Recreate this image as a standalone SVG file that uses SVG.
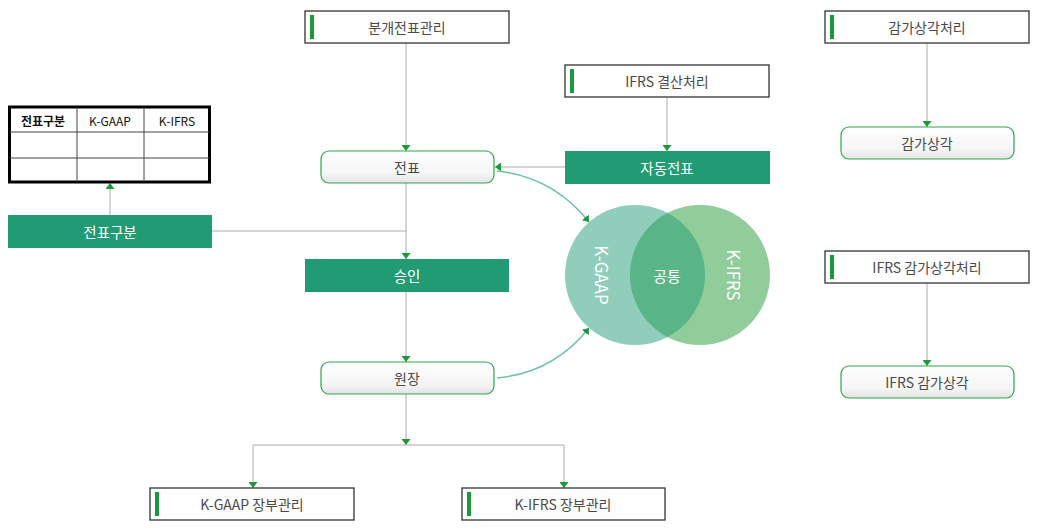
<svg xmlns="http://www.w3.org/2000/svg" width="1040" height="530" viewBox="0 0 1040 530">
<defs>
<style>
text{font-family:"Noto Sans CJK KR","Noto Sans",sans-serif;font-size:14px;text-anchor:middle;dominant-baseline:central}
.ob{fill:#fff;stroke:#333;stroke-width:1.3}
.bar{fill:#1a9a3c}
.gb{fill:#209b74}
.rn{fill:url(#gr);stroke:#2fa64a;stroke-width:1.2}
.dk{fill:#4a4a4a}
.wt{fill:#fff}
.ln{fill:none;stroke:#aaa;stroke-width:1}
.cv{fill:none;stroke:#6cc4a0;stroke-width:1.5}
.tb{fill:#fff;stroke:#000;stroke-width:3}
.tl{stroke:#444;stroke-width:1}
.th{font-size:12px;fill:#111}
</style>
<linearGradient id="gr" x1="0" y1="0" x2="0" y2="1">
<stop offset="0" stop-color="#fff"/><stop offset="0.7" stop-color="#f5f5f5"/><stop offset="1" stop-color="#e3e3e3"/>
</linearGradient>
<marker id="ah" viewBox="0 0 10 10" refX="10" refY="5" markerWidth="6" markerHeight="9" orient="auto" markerUnits="userSpaceOnUse" preserveAspectRatio="none">
<path d="M0,0 L10,5 L0,10 z" fill="#1b9a3a"/>
</marker>
</defs>
<rect width="1040" height="530" fill="#fff"/>

<g id="connectors">
<path class="ln" d="M406,43 V151" marker-end="url(#ah)"/>
<path class="ln" d="M406,183 V259" marker-end="url(#ah)"/>
<path class="ln" d="M406,292 V362" marker-end="url(#ah)"/>
<path class="ln" d="M406,394 V445" marker-end="url(#ah)"/>
<path class="ln" d="M406,445 H253 V488" marker-end="url(#ah)"/>
<path class="ln" d="M406,445 H564 V488" marker-end="url(#ah)"/>
<path class="ln" d="M110,215 V183" marker-end="url(#ah)"/>
<path class="ln" d="M212,231 H406"/>
<path class="ln" d="M667,98 V151" marker-end="url(#ah)"/>
<path class="ln" d="M565,167 H495" marker-end="url(#ah)"/>
<path class="ln" d="M927,43 V127" marker-end="url(#ah)"/>
<path class="ln" d="M927,283 V366" marker-end="url(#ah)"/>
<path class="cv" d="M497,171 Q553,177 589,222" marker-end="url(#ah)"/>
<path class="cv" d="M497,378 Q553,373 589,328" marker-end="url(#ah)"/>
</g>

<g id="venn">
<circle cx="700" cy="275" r="70" fill="#219b38" fill-opacity="0.5"/>
<circle cx="635" cy="275" r="70" fill="#219c76" fill-opacity="0.5"/>
<text class="wt" x="0" y="0" transform="translate(602,275) rotate(90)" style="font-size:17px">K-GAAP</text>
<text class="wt" x="0" y="0" transform="translate(734,275) rotate(90)" style="font-size:17px">K-IFRS</text>
<text class="wt" x="667" y="275" style="font-size:15px">공통</text>
</g>

<g id="table">
<rect class="tb" x="9.5" y="107" width="200" height="75"/>
<line class="tl" x1="77" y1="107" x2="77" y2="182"/>
<line class="tl" x1="144" y1="107" x2="144" y2="182"/>
<line class="tl" x1="9.5" y1="132" x2="209.5" y2="132"/>
<line class="tl" x1="9.5" y1="158" x2="209.5" y2="158"/>
<text class="th" x="43" y="120" style="font-weight:bold">전표구분</text>
<text class="th" x="110" y="120">K-GAAP</text>
<text class="th" x="177" y="120">K-IFRS</text>
</g>

<g id="n-jeonpyogubun">
<rect class="gb" x="8" y="215" width="204" height="33"/>
<text class="wt" x="110" y="231.5" style="font-size:14.5px">전표구분</text>
</g>

<g id="n-bungae">
<rect class="ob" x="305" y="11" width="204" height="32"/>
<rect class="bar" x="310" y="15" width="4" height="24"/>
<text class="dk" x="407" y="27">분개전표관리</text>
</g>

<g id="n-jeonpyo">
<rect class="rn" x="321" y="151" width="173" height="32" rx="8"/>
<text class="dk" x="407" y="167">전표</text>
</g>

<g id="n-seungin">
<rect class="gb" x="305" y="259" width="204" height="33"/>
<text class="wt" x="407" y="275.5" style="font-size:14.5px">승인</text>
</g>

<g id="n-wonjang">
<rect class="rn" x="321" y="362" width="173" height="32" rx="8"/>
<text class="dk" x="407" y="378">원장</text>
</g>

<g id="n-ifrs-gyeolsan">
<rect class="ob" x="565" y="65" width="204" height="32"/>
<rect class="bar" x="570" y="69" width="4" height="24"/>
<text class="dk" x="667" y="81">IFRS 결산처리</text>
</g>

<g id="n-jadong">
<rect class="gb" x="565" y="151" width="205" height="33"/>
<text class="wt" x="667" y="167.5" style="font-size:14.5px">자동전표</text>
</g>

<g id="n-gamga-cheori">
<rect class="ob" x="825" y="11" width="204" height="32"/>
<rect class="bar" x="830" y="15" width="4" height="24"/>
<text class="dk" x="927" y="27">감가상각처리</text>
</g>

<g id="n-gamga">
<rect class="rn" x="841" y="127" width="173" height="32" rx="8"/>
<text class="dk" x="927" y="143">감가상각</text>
</g>

<g id="n-ifrs-gamga-cheori">
<rect class="ob" x="825" y="251" width="204" height="32"/>
<rect class="bar" x="830" y="255" width="4" height="24"/>
<text class="dk" x="927" y="267">IFRS 감가상각처리</text>
</g>

<g id="n-ifrs-gamga">
<rect class="rn" x="841" y="366" width="173" height="32" rx="8"/>
<text class="dk" x="927" y="382">IFRS 감가상각</text>
</g>

<g id="n-kgaap-jangbu">
<rect class="ob" x="150" y="488" width="204" height="32"/>
<rect class="bar" x="155" y="492" width="4" height="24"/>
<text class="dk" x="252" y="504">K-GAAP 장부관리</text>
</g>

<g id="n-kifrs-jangbu">
<rect class="ob" x="462" y="488" width="203" height="32"/>
<rect class="bar" x="467" y="492" width="4" height="24"/>
<text class="dk" x="563" y="504">K-IFRS 장부관리</text>
</g>
</svg>
